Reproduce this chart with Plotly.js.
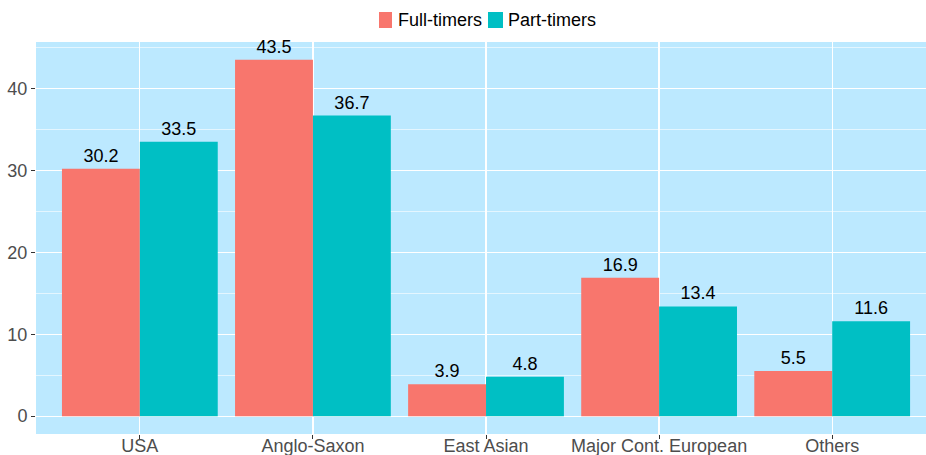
<!DOCTYPE html>
<html>
<head>
<meta charset="utf-8">
<script src="https://cdn.plot.ly/plotly-3.0.1.min.js"></script>
<style>html,body{margin:0;padding:0;background:#fff;}#chart{width:926px;height:455px;}</style>
</head>
<body>
<div id="chart"></div>
<script>
const categories = ["USA", "Anglo-Saxon", "East Asian", "Major Cont. European", "Others"];
const fullTimers = [30.2, 43.5, 3.9, 16.9, 5.5];
const partTimers = [33.5, 36.7, 4.8, 13.4, 11.6];
const seriesNames = ["Full-timers", "Part-timers"];
const seriesColors = ["#F8766D", "#00BFC4"];
const yTicks = [0, 10, 20, 30, 40];

const xPos = categories.map((c, i) => i + 1);
const fmt = v => v.toFixed(1);
const FONT = "Liberation Sans, Arial, sans-serif";

const traces = [fullTimers, partTimers].map((vals, k) => ({
  type: "bar", name: seriesNames[k], x: xPos, y: vals, text: vals.map(fmt),
  textposition: "outside", cliponaxis: false, marker: {color: seriesColors[k]},
  textfont: {color: "#000", size: 18, family: FONT}, hoverinfo: "skip", showlegend: false
}));

// legend drawn as swatches + text in paper coordinates
const ml = 36, mt = 42, plotW = 890, plotH = 392;
const px = p => (p - ml) / plotW;
const py = p => (mt + plotH - p) / plotH;
const legendItems = [{x0: 379, x1: 392, tx: 397}, {x0: 488, x1: 503, tx: 507}];
const shapes = legendItems.map((it, k) => ({
  type: "rect", xref: "paper", yref: "paper",
  x0: px(it.x0), x1: px(it.x1), y0: py(28), y1: py(12),
  fillcolor: seriesColors[k], line: {width: 0}
}));
const annotations = legendItems.map((it, k) => ({
  xref: "paper", yref: "paper", x: px(it.tx), y: py(20), xanchor: "left", yanchor: "middle",
  text: seriesNames[k], showarrow: false, font: {size: 18, color: "#000", family: FONT}, borderpad: 0
}));

const layout = {
  width: 926, height: 455,
  margin: {l: ml, r: 0, t: mt, b: 455 - mt - plotH},
  paper_bgcolor: "#fff",
  plot_bgcolor: "#BCE9FF",
  font: {family: FONT, size: 18, color: "#4D4D4D"},
  barmode: "group", bargap: 0.1, bargroupgap: 0,
  showlegend: false,
  shapes: shapes,
  annotations: annotations,
  xaxis: {
    range: [0.4, 5.542], tickvals: xPos, ticktext: categories,
    showgrid: true, gridcolor: "#fff", gridwidth: 1.2, zeroline: false,
    ticks: "outside", ticklen: 4, tickcolor: "#333", tickwidth: 1,
    ticklabelstandoff: -9,
    tickfont: {size: 18, color: "#4D4D4D"}, fixedrange: true
  },
  yaxis: {
    range: [-2.175, 45.675], tickvals: yTicks, ticktext: yTicks.map(String),
    showgrid: true, gridcolor: "#fff", gridwidth: 1.2, zeroline: false,
    ticks: "outside", ticklen: 4, tickcolor: "#333", tickwidth: 1,
    tickfont: {size: 18, color: "#4D4D4D"},
    minor: {tickvals: [5, 15, 25, 35, 45], showgrid: true, gridcolor: "#fff", gridwidth: 0.6, ticks: ""},
    fixedrange: true
  }
};

Plotly.newPlot("chart", traces, layout, {displayModeBar: false, staticPlot: true});
</script>
</body>
</html>
